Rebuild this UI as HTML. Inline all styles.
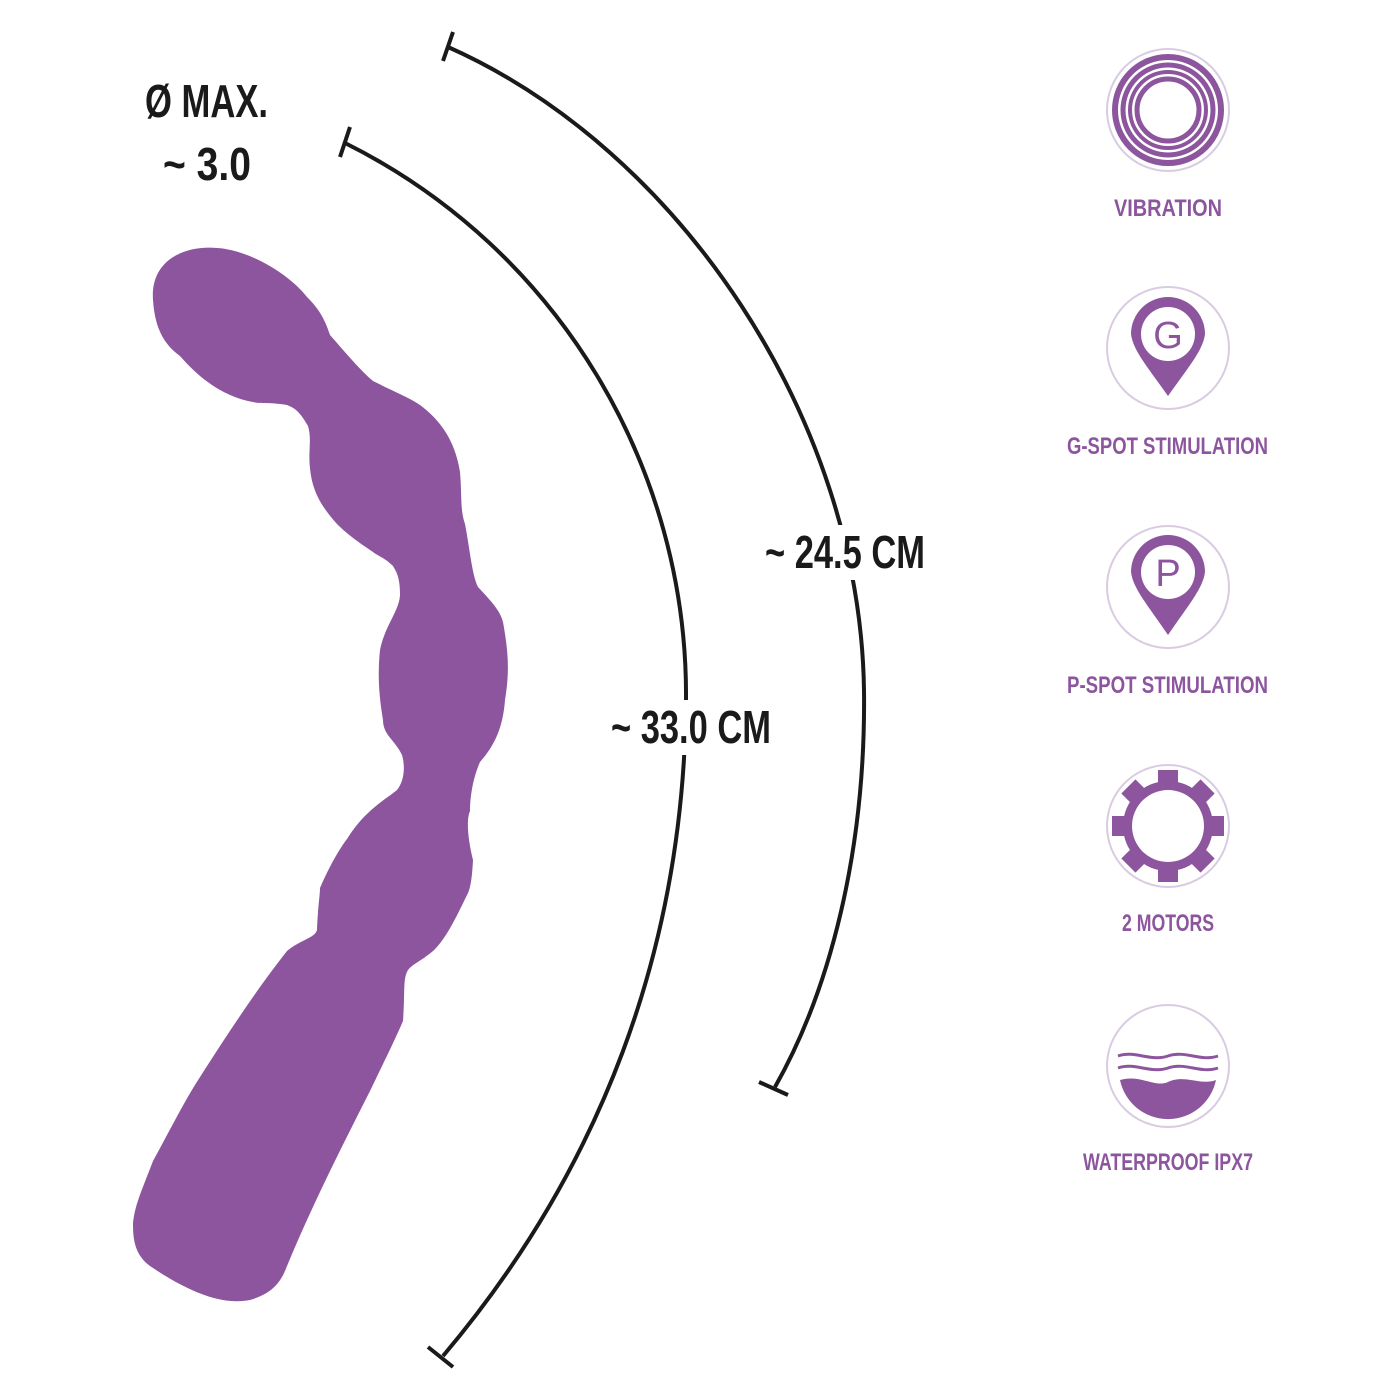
<!DOCTYPE html>
<html><head><meta charset="utf-8"><style>html,body{margin:0;padding:0;background:#fff}svg{display:block}</style></head>
<body>
<svg width="1400" height="1400" viewBox="0 0 1400 1400" xmlns="http://www.w3.org/2000/svg">
<!-- purple shape -->
<path d="M153,300 C150,260 185,245 217,248 C250,250 290,275 307,297 C320,310 325,320 330,335 C345,352 360,370 373,381 C395,392 410,398 420,405 C440,420 455,440 460,472 C462,495 460,510 465,524 C470,550 472,575 478,587 C490,600 500,610 503,622 C508,650 510,670 505,700 C503,727 495,745 480,762 C472,780 470,800 470,811 C466,820 468,840 473,860 C472,880 470,890 467,895 C455,920 445,940 433,951 C420,962 410,965 407,972 C403,980 405,995 403,1021 C395,1040 380,1070 370,1091 C340,1150 310,1210 287,1266 C280,1285 270,1294 250,1300 C230,1304 200,1300 150,1266 C135,1255 133,1240 133,1224 C135,1205 140,1195 153,1161 C170,1130 185,1100 200,1077 C230,1030 260,985 287,951 C300,940 315,938 317,930 C318,905 320,895 320,888 C330,865 340,848 347,839 C365,810 385,800 397,790 C405,780 405,765 402,755 C395,740 383,735 383,720 C378,690 378,670 380,650 C385,625 400,610 400,594 C400,575 395,570 393,566 C385,558 378,556 373,552 C355,540 345,532 337,524 C320,505 312,490 310,468 C308,450 312,440 308,426 C300,412 295,408 287,405 C270,402 260,404 253,402 C230,398 205,385 180,356 C165,345 155,330 153,300 Z" fill="#8c559e"/>
<!-- arcs -->
<g fill="none" stroke="#1a1a1a" stroke-width="4" stroke-linecap="butt">
<path d="M448,47 C680,150 860,420 864,690 C866,850 830,990 775,1087"/>
<line x1="453" y1="32" x2="443" y2="61"/>
<line x1="759" y1="1082" x2="788" y2="1095"/>
<path d="M345,143 C560,250 688,470 686,700 C684,950 600,1170 443,1356"/>
<line x1="350" y1="127" x2="340" y2="157"/>
<line x1="428" y1="1347" x2="453" y2="1367"/>
</g>
<rect x="760" y="525" width="170" height="55" fill="#fff"/>
<rect x="605" y="700" width="170" height="55" fill="#fff"/>
<g font-family="Liberation Sans, sans-serif" font-weight="bold" fill="#1a1a1a">
<text x="145" y="117" font-size="46" textLength="123" lengthAdjust="spacingAndGlyphs">Ø MAX.</text>
<text x="163" y="180" font-size="46" textLength="88" lengthAdjust="spacingAndGlyphs">~ 3.0</text>
<text x="765" y="568" font-size="46" textLength="160" lengthAdjust="spacingAndGlyphs">~ 24.5 CM</text>
<text x="611" y="743" font-size="46" textLength="160" lengthAdjust="spacingAndGlyphs">~ 33.0 CM</text>
</g>
<!-- icons -->
<g fill="none" stroke="#d9cce2" stroke-width="2">
<circle cx="1168" cy="110" r="61"/>
<circle cx="1168" cy="348" r="61"/>
<circle cx="1168" cy="587" r="61"/>
<circle cx="1168" cy="826" r="61"/>
<circle cx="1168" cy="1066" r="61"/>
</g>
<!-- vibration -->
<g fill="none" stroke="#8c559e">
<circle cx="1168" cy="110" r="53" stroke-width="6"/>
<circle cx="1168" cy="110" r="45" stroke-width="5"/>
<circle cx="1168" cy="110" r="38" stroke-width="4"/>
<circle cx="1168" cy="110" r="31" stroke-width="5"/>
</g>
<!-- G pin -->
<path d="M1131,334 A37,37 0 1 1 1205,334 C1203,350 1190,365 1168,396 C1146,365 1133,350 1131,334 Z" fill="#8c559e"/>
<circle cx="1168" cy="334" r="27" fill="#fff"/>
<text x="1168" y="348" font-family="Liberation Sans, sans-serif" font-size="38" fill="#8c559e" text-anchor="middle">G</text>
<!-- P pin -->
<path d="M1131,572 A37,37 0 1 1 1205,572 C1203,588 1190,603 1168,635 C1146,603 1133,588 1131,572 Z" fill="#8c559e"/>
<circle cx="1168" cy="572" r="27" fill="#fff"/>
<text x="1168" y="586" font-family="Liberation Sans, sans-serif" font-size="38" fill="#8c559e" text-anchor="middle">P</text>
<!-- gear -->
<g fill="#8c559e" transform="translate(1168,826)">
<circle r="45"/>
<g>
<rect x="-10" y="-56" width="20" height="16" transform="rotate(0)"/>
<rect x="-10" y="-56" width="20" height="16" transform="rotate(45)"/>
<rect x="-10" y="-56" width="20" height="16" transform="rotate(90)"/>
<rect x="-10" y="-56" width="20" height="16" transform="rotate(135)"/>
<rect x="-10" y="-56" width="20" height="16" transform="rotate(180)"/>
<rect x="-10" y="-56" width="20" height="16" transform="rotate(225)"/>
<rect x="-10" y="-56" width="20" height="16" transform="rotate(270)"/>
<rect x="-10" y="-56" width="20" height="16" transform="rotate(315)"/>
</g>
<circle r="36" fill="#fff"/>
</g>
<!-- waves -->
<g fill="none" stroke="#8c559e" stroke-width="3">
<path d="M1118,1056 C1135,1050 1150,1062 1168,1056 C1186,1050 1200,1062 1218,1056"/>
<path d="M1118,1068 C1135,1062 1150,1074 1168,1068 C1186,1062 1200,1074 1218,1068"/>
</g>
<path d="M1120,1080 C1140,1074 1155,1088 1168,1082 C1185,1074 1200,1086 1216,1080 A49,49 0 0 1 1120,1080 Z" fill="#8c559e"/>
<g font-family="Liberation Sans, sans-serif" font-weight="bold" fill="#8c559e" font-size="24">
<text x="1114" y="216" textLength="108" lengthAdjust="spacingAndGlyphs">VIBRATION</text>
<text x="1067" y="454" textLength="201" lengthAdjust="spacingAndGlyphs">G-SPOT STIMULATION</text>
<text x="1067" y="693" textLength="201" lengthAdjust="spacingAndGlyphs">P-SPOT STIMULATION</text>
<text x="1122" y="931" textLength="92" lengthAdjust="spacingAndGlyphs">2 MOTORS</text>
<text x="1083" y="1170" textLength="170" lengthAdjust="spacingAndGlyphs">WATERPROOF IPX7</text>
</g>
</svg>
</body></html>
